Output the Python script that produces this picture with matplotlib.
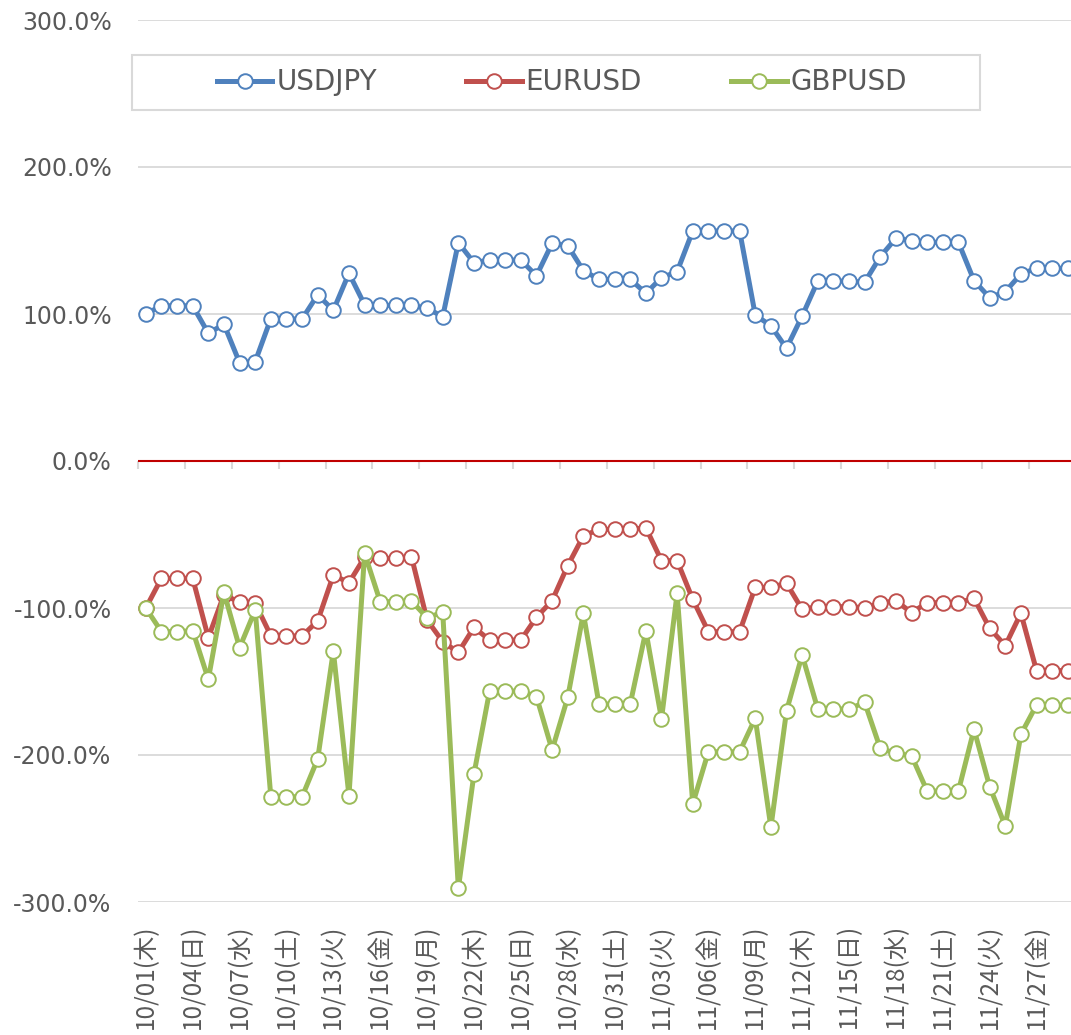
import matplotlib
matplotlib.use("Agg")
import matplotlib.pyplot as plt
from matplotlib.patches import Rectangle
from matplotlib.ticker import FuncFormatter
import numpy as np
import pandas as pd

# daily categories 10/01 .. 11/29
dates = pd.date_range("2015-10-01", "2015-11-29", freq="D")
weekday_jp = ["月", "火", "水", "木", "金", "土", "日"]
date_labels = [d.strftime("%m/%d") + "(" + weekday_jp[d.weekday()] + ")" for d in dates]

usdjpy = [100, 105.6, 105.6, 105.6, 86.9, 93, 66.9, 67.6, 96.8, 96.6,
          96.6, 113.1, 102.5, 127.7, 106.3, 105.9, 105.9, 105.9, 103.9, 98.2,
          148.5, 134.9, 136.7, 136.7, 136.7, 126, 148.1, 146.5, 129.5, 123.6,
          123.6, 123.6, 114.1, 124.7, 128.8, 156.5, 156.5, 156.5, 156.5, 99.3,
          92, 76.7, 98.6, 122.4, 122.4, 122.4, 121.6, 139, 151.5, 149.9,
          148.8, 148.8, 148.8, 122.7, 111.1, 115.2, 127.2, 131.1, 131.1, 131.1]

eurusd = [-100, -79.8, -79.8, -79.8, -120.2, -91, -96.1, -96.8, -118.8, -119,
          -119, -108.8, -77.6, -82.8, -65.5, -66.2, -66.2, -65.1, -108.2, -122.9,
          -130.2, -113.2, -121.8, -121.8, -121.8, -106.3, -95, -71.2, -51, -46.5,
          -46.5, -46.5, -45.4, -67.8, -67.8, -94.1, -116.1, -116.1, -116.1, -85.9,
          -85.9, -83.2, -100.9, -99.1, -99.1, -99.1, -99.8, -96.8, -95, -103.2,
          -96.4, -96.4, -96.4, -93.4, -113.8, -125.6, -103.6, -142.6, -142.6, -142.6]

gbpusd = [-100, -116.1, -116.1, -115.4, -148.5, -89.3, -127, -101.4, -228.4, -228.4,
          -228.4, -202.7, -129.3, -227.7, -62.8, -95.7, -95.7, -95.2, -106.6, -102.9,
          -290.7, -212.9, -156.5, -156.5, -156.5, -160.3, -196.6, -160.8, -103.6, -165.3,
          -165.3, -165.3, -115.6, -175.5, -90, -233.3, -197.8, -197.8, -197.8, -175,
          -249.2, -170.1, -132, -168.7, -168.7, -168.7, -164.2, -195.5, -198.9, -200.5,
          -224.5, -224.5, -224.5, -182.5, -221.5, -248.3, -185.9, -166, -166, -166]

series = [("USDJPY", usdjpy, "#4F81BD"),
          ("EURUSD", eurusd, "#C0504D"),
          ("GBPUSD", gbpusd, "#9BBB59")]

W, H = 1071, 1035
fig = plt.figure(figsize=(W / 100, H / 100), dpi=100)
ax = fig.add_axes([138 / W, 1 - 902 / H, 937.6 / W, 882 / H])

x = np.arange(len(dates))
for name, vals, col in series:
    ax.plot(x, vals, color=col, lw=3.6, marker="o", ms=10.5,
            mfc="white", mec=col, mew=1.4, label=name, zorder=3)

ax.axhline(0, color="#C00000", lw=1.5, zorder=2)

ax.set_xlim(-0.5, len(dates) - 0.5)
ax.set_ylim(-300, 300)
ax.set_yticks(np.arange(-300, 301, 100))
ax.yaxis.set_major_formatter(FuncFormatter(lambda v, p: f"{v:.1f}%"))
ax.grid(axis="y", color="#D9D9D9", lw=1.3)
ax.set_axisbelow(True)
for s in ax.spines.values():
    s.set_visible(False)

ax.tick_params(axis="y", length=0, pad=19, labelsize=17, labelcolor="#595959")
ax.set_xticks(x[::3])
ax.set_xticklabels(date_labels[::3], rotation=90, va="top", ha="center",
                   family=["Noto Sans CJK JP", "DejaVu Sans"], fontsize=17.5,
                   color="#595959")
ax.tick_params(axis="x", length=0, pad=16)

# tick marks sitting on the zero line, at category boundaries
sec = ax.secondary_xaxis(0.5)
sec.set_alignment("bottom")
sec.set_xticks(np.arange(-0.5, len(dates), 3))
sec.tick_params(length=6, width=1.5, color="#D9D9D9", direction="out",
                labelbottom=False, labeltop=False)
for s in sec.spines.values():
    s.set_visible(False)

leg = ax.legend(loc="center", bbox_to_anchor=(562 / W, 1 - 82.5 / H),
                bbox_transform=fig.transFigure, ncol=3, frameon=False,
                fontsize=20, handlelength=2.0, handletextpad=0.15,
                columnspacing=3.2)
for t in leg.get_texts():
    t.set_color("#595959")

fig.add_artist(Rectangle((132 / W, 1 - 110 / H), (980 - 132) / W, 55 / H,
                         transform=fig.transFigure, fill=False,
                         ec="#D9D9D9", lw=1.5, zorder=5))

fig.savefig("out.png", dpi=100)
